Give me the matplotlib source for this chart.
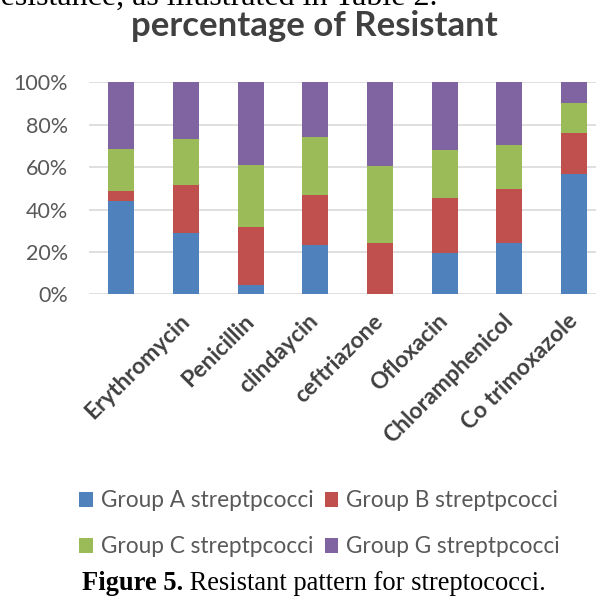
import numpy as np
import matplotlib
matplotlib.use("Agg")
import matplotlib.pyplot as plt
from matplotlib.patches import Patch

# values (percent of resistant isolates per group)
drugs = ["", "Erythromycin", "Penicillin", "clindaycin", "ceftriazone",
         "Ofloxacin", "Chloramphenicol", "Co trimoxazole"]
group_a = [44.0, 28.9, 4.6, 23.4, 0.0, 19.7, 24.1, 56.6]
group_b = [4.6, 22.7, 27.0, 23.3, 24.1, 25.7, 25.7, 19.7]
group_c = [20.0, 21.5, 29.4, 27.5, 36.3, 22.7, 20.6, 13.8]
group_g = [31.4, 26.9, 39.0, 25.8, 39.6, 31.9, 29.6, 9.9]
series_names = ["Group A streptpcocci", "Group B streptpcocci",
                "Group C streptpcocci", "Group G streptpcocci"]
colors = ["#4F81BD", "#C0504D", "#9BBB59", "#8064A2"]
yticks = [0, 20, 40, 60, 80, 100]

plt.rcParams["font.family"] = ["Lato", "DejaVu Sans"]

fig = plt.figure(figsize=(5.96, 5.96), dpi=100)
ax = fig.add_axes([0.149, 0.5062, 0.8685, 0.3557])

x = np.arange(len(drugs))
bottom = np.zeros(len(drugs))
for vals, col in zip([group_a, group_b, group_c, group_g], colors):
    vals = np.array(vals)
    ax.bar(x, vals, width=0.4, bottom=bottom, color=col, zorder=3)
    bottom += vals

ax.set_xlim(-0.5, len(drugs) - 0.5)
ax.set_ylim(0, 100)
ax.set_yticks(yticks)
ax.set_yticklabels([str(t) + "%" for t in yticks])
ax.yaxis.grid(True, color="#D9D9D9", linewidth=1.2, zorder=0)
for s in ax.spines.values():
    s.set_visible(False)
ax.tick_params(axis="y", length=0, pad=15, labelsize=15.5, labelcolor="#595959")
ax.tick_params(axis="x", length=0, pad=17)
ax.set_xticks(x)
ax.set_xticklabels(drugs, rotation=45, ha="right", va="center",
                   rotation_mode="anchor", fontsize=16.5, fontweight="bold",
                   color="#404040")

fig.text(0.527, 0.9396, "percentage of Resistant", ha="center", va="baseline",
         fontsize=25, fontweight="bold", color="#404040")

# cropped line of body text from the paper above the figure
fig.text(0.734, 0.9925, "resistance, as illustrated in Table 2.", ha="right",
         va="baseline", fontsize=23, family="Liberation Serif", color="black")

handles = [Patch(facecolor=c) for c in colors]
order = [0, 2, 1, 3]
fig.legend([handles[i] for i in order], [series_names[i] for i in order],
           ncol=2, loc="center", bbox_to_anchor=(0.536, 0.121),
           frameon=False, fontsize=16.3, labelcolor="#595959",
           handlelength=0.6, handleheight=0.6, handletextpad=0.35,
           columnspacing=0.5, labelspacing=1.1)

# caption: bold label followed by regular text
cap_bold = fig.text(0.1376, 0.0101, "Figure 5.", ha="left", va="baseline",
                    fontsize=19.1, family="Liberation Serif", fontweight="bold")
fig.canvas.draw()
bb = cap_bold.get_window_extent(fig.canvas.get_renderer())
x_next = fig.transFigure.inverted().transform((bb.x1, bb.y0))[0]
fig.text(x_next, 0.0101, " Resistant pattern for streptococci.", ha="left",
         va="baseline", fontsize=19.1, family="Liberation Serif")

fig.savefig("out.png", dpi=100)
